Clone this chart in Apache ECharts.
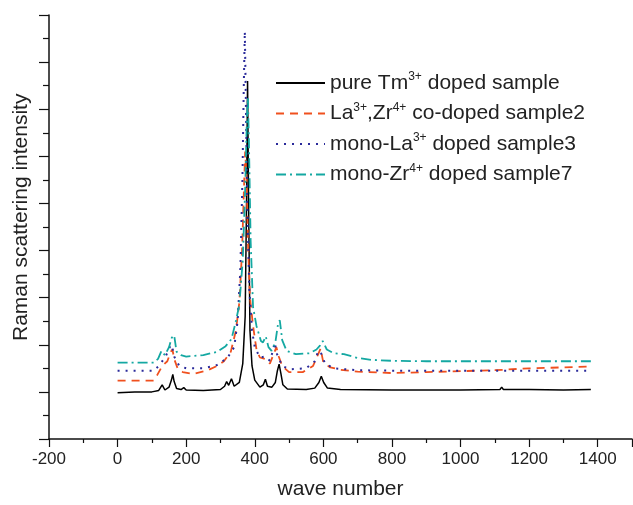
<!DOCTYPE html>
<html>
<head>
<meta charset="utf-8">
<script src="https://cdn.jsdelivr.net/npm/echarts@6/dist/echarts.min.js"></script>
<style>html,body{margin:0;padding:0;background:#fff;}#c{width:633px;height:505px;}</style>
</head>
<body>
<div id="c"></div>
<script>
const seriesNames = ['pure', 'co', 'la', 'zr'];
const legendLabels = [
  'pure Tm{sup|3+} doped sample',
  'La{sup|3+},Zr{sup|4+} co-doped sample2',
  'mono-La{sup|3+} doped sample3',
  'mono-Zr{sup|4+} doped sample7'
];
const xTicks = [-200, 0, 200, 400, 600, 800, 1000, 1200, 1400];

const pureTm = [[0,0.98],[50,1.0],[100,1.0],[120,1.03],[130,1.15],[138,1.04],[150,1.1],[157,1.25],[161,1.37],[165,1.22],[172,1.07],[185,1.05],[193,1.09],[200,1.04],[250,1.03],[300,1.05],[312,1.12],[318,1.22],[324,1.14],[332,1.28],[340,1.12],[355,1.2],[365,1.6],[372,2.6],[376,5.0],[379,7.6],[382,5.0],[386,2.3],[392,1.55],[400,1.25],[415,1.1],[425,1.15],[431,1.27],[437,1.12],[450,1.1],[460,1.2],[466,1.45],[471,1.59],[476,1.4],[482,1.15],[495,1.06],[550,1.05],[575,1.08],[587,1.2],[594,1.33],[601,1.2],[612,1.08],[650,1.05],[800,1.04],[1000,1.04],[1115,1.05],[1120,1.1],[1125,1.05],[1200,1.05],[1300,1.04],[1380,1.05]];

const coDoped = [[0,1.24],[105,1.24],[115,1.35],[130,1.55],[145,1.65],[155,1.85],[160,1.9],[165,1.7],[175,1.5],[190,1.42],[220,1.38],[260,1.45],[290,1.55],[310,1.65],[330,1.85],[345,2.3],[355,2.9],[363,4.0],[368,5.2],[372,6.1],[376,5.6],[380,4.2],[386,3.0],[395,2.4],[405,1.9],[415,1.73],[430,1.7],[444,1.6],[455,1.8],[463,1.95],[470,1.75],[480,1.55],[500,1.42],[540,1.42],[570,1.55],[585,1.8],[592,1.92],[600,1.62],[620,1.52],[650,1.47],[700,1.43],[800,1.40],[900,1.42],[1000,1.44],[1100,1.46],[1200,1.50],[1300,1.52],[1380,1.54]];

const monoLa = [[0,1.45],[105,1.45],[120,1.55],[140,1.75],[152,1.95],[158,2.0],[165,1.75],[180,1.55],[200,1.5],[250,1.5],[290,1.57],[320,1.72],[340,1.95],[350,2.5],[358,3.6],[364,5.5],[368,7.5],[371,8.65],[374,7.2],[378,5.0],[384,3.2],[392,2.3],[400,1.95],[415,1.73],[430,1.75],[444,1.66],[452,1.85],[458,2.05],[465,1.8],[480,1.55],[502,1.48],[550,1.5],[575,1.65],[585,1.87],[592,1.85],[605,1.6],[630,1.5],[700,1.46],[800,1.45],[1000,1.45],[1200,1.45],[1380,1.45]];

const monoZr = [[0,1.62],[105,1.62],[118,1.7],[128,1.87],[138,1.78],[150,1.95],[158,2.15],[165,2.2],[172,1.85],[185,1.78],[200,1.75],[250,1.78],[290,1.85],[315,1.97],[332,2.12],[345,2.5],[355,2.85],[365,3.8],[372,5.3],[377,6.8],[380,7.25],[383,6.3],[388,4.2],[395,2.8],[405,2.4],[418,2.08],[424,2.05],[432,2.18],[440,1.95],[449,1.87],[460,2.05],[468,2.45],[473,2.52],[480,2.1],[493,1.87],[520,1.8],[560,1.82],[580,1.9],[590,1.98],[598,2.08],[610,1.9],[630,1.82],[660,1.8],[700,1.72],[740,1.68],[800,1.66],[900,1.65],[1000,1.65],[1200,1.65],[1380,1.65]];

const chart = echarts.init(document.getElementById('c'), null, {renderer: 'canvas'});
const font = 'Liberation Sans, Arial, sans-serif';
const mk = (i, data, color, type, width) => ({
  name: seriesNames[i], type: 'line', data: data, symbol: 'none', smooth: false,
  lineStyle: {color: color, type: type, width: width}, itemStyle: {color: color},
  z: 2 + i, animation: false
});
chart.setOption({
  animation: false,
  grid: {left: 49, right: 1, top: 15, bottom: 63},
  legend: {
    left: 270, top: 66, orient: 'vertical', itemGap: 8, itemWidth: 49, itemHeight: 20,
    data: seriesNames,
    itemStyle: {opacity: 0},
    formatter: function (n) { return legendLabels[seriesNames.indexOf(n)]; },
    textStyle: {
      fontFamily: font, fontSize: 21, color: '#222',
      rich: {sup: {fontFamily: font, fontSize: 12, color: '#222', verticalAlign: 'top', padding: [0,0,12,0]}}
    }
  },
  xAxis: {
    type: 'value', min: -200, max: 1500, interval: 200,
    name: 'wave number', nameLocation: 'middle', nameGap: 40,
    nameTextStyle: {fontFamily: font, fontSize: 21, color: '#222'},
    axisLine: {lineStyle: {color: '#111', width: 1.5}},
    axisTick: {show: true, length: 8, lineStyle: {color: '#111', width: 1.2}},
    minorTick: {show: true, splitNumber: 2, length: 4, lineStyle: {color: '#111', width: 1.2}},
    splitLine: {show: false},
    axisLabel: {fontFamily: font, fontSize: 17, color: '#222', margin: 12, showMaxLabel: false,
      formatter: function (v) { return xTicks.indexOf(v) >= 0 ? String(v) : ''; }}
  },
  yAxis: {
    type: 'value', min: 0, max: 9, interval: 1,
    axisLine: {show: true, onZero: false, lineStyle: {color: '#111', width: 1.5}},
    axisTick: {show: true, length: 10, lineStyle: {color: '#111', width: 1.2}},
    minorTick: {show: true, splitNumber: 2, length: 6, lineStyle: {color: '#111', width: 1.2}},
    splitLine: {show: false},
    axisLabel: {show: false}
  },
  graphic: [
    {type: 'text', x: 11, y: 341, rotation: Math.PI / 2, style: {text: 'Raman scattering intensity', fontFamily: font, fontSize: 21, fill: '#222'}}
  ],
  series: [
    mk(0, pureTm, '#000000', 'solid', 1.5),
    mk(1, coDoped, '#F0501E', [8, 6], 1.8),
    mk(2, monoLa, '#2A2A9A', [2, 6], 2),
    mk(3, monoZr, '#14A8A2', [10, 4, 2, 4], 1.8)
  ]
});
</script>
</body>
</html>
